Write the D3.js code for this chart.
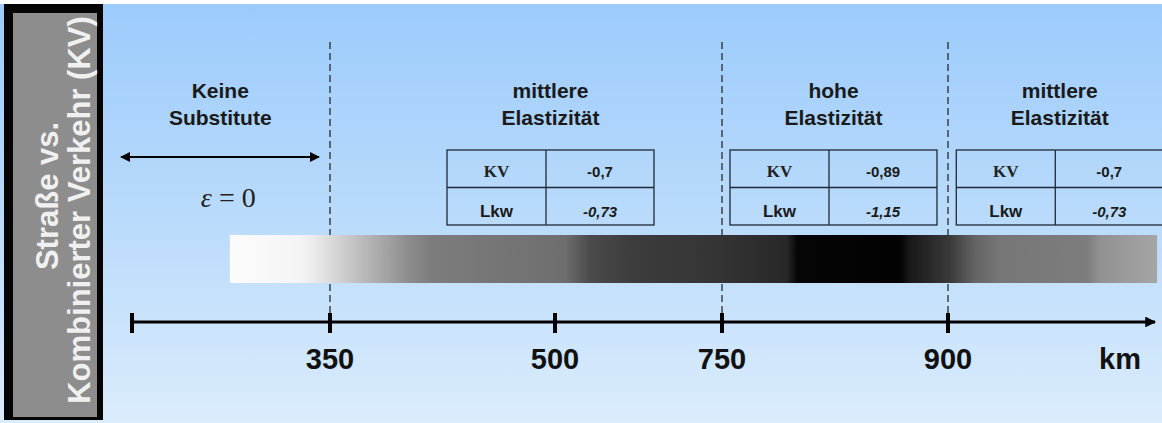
<!DOCTYPE html>
<html>
<head>
<meta charset="UTF-8">
<style>
  body { margin: 0; background: #fff; }
  svg { display: block; font-family: "Liberation Sans", Arial, sans-serif; }
</style>
<title>Elastizität nach Entfernung</title>
</head>
<body>
<svg></svg>
<script src="https://d3js.org/d3.v7.min.js"></script>
<script>

let width = 1162, height = 423;

// data
const tickKm = [0, 350, 500, 750, 900];
const tickLabels = ["", "350", "500", "750", "900"];
const boundaryKm = [350, 750, 900];
const regionTitles = [["Keine", "Substitute"], ["mittlere", "Elastizität"], ["hohe", "Elastizität"], ["mittlere", "Elastizität"]];
const regionCenterKm = [156, 497, 824, 1008];
const rowNames = ["KV", "Lkw"];
const kvValues = [-0.7, -0.89, -0.7];
const lkwValues = [-0.73, -1.15, -0.73];
const zeroEpsilon = 0;
// grey level of the elasticity bar along the distance
const stopKm = [173, 292, 320, 359, 403, 417, 515, 552, 617, 747, 793, 800, 868, 875, 902, 926, 950, 1034, 1047, 1102];
const stopGrey = [252, 245, 236, 205, 140, 125, 110, 75, 60, 52, 40, 5, 2, 25, 58, 100, 118, 125, 145, 165];

const de = d3.formatLocale({decimal: ",", thousands: ".", grouping: [3], currency: ["", " €"], minus: "-"});
const fmt = v => de.format("")(v);

let svg = d3.select("svg").attr("width", width).attr("height", height);

// piecewise distance scale (axis is not to scale)
let x = d3.scaleLinear()
    .domain([0, 350, 500, 750, 900, 1100])
    .range([132, 330, 555, 722, 948, 1155]);

let defs = svg.append("defs");

let bg = defs.append("linearGradient").attr("id", "bg")
    .attr("x1", 0).attr("y1", 0).attr("x2", 0).attr("y2", 1);
bg.append("stop").attr("offset", "0%").attr("stop-color", "#9ccbfc");
bg.append("stop").attr("offset", "55%").attr("stop-color", "#bcdcfb");
bg.append("stop").attr("offset", "100%").attr("stop-color", "#dbecfc");

let x0 = x(stopKm[0]), x1 = x(stopKm[stopKm.length - 1]);
let gr = defs.append("linearGradient").attr("id", "bar")
    .attr("x1", 0).attr("y1", 0).attr("x2", 1).attr("y2", 0);
gr.selectAll("stop")
    .data(stopKm)
  .enter()
    .append("stop")
    .attr("offset", d => (x(d) - x0) / (x1 - x0))
    .attr("stop-color", (d, i) => d3.rgb(stopGrey[i], stopGrey[i], stopGrey[i]));

let mk = defs.append("marker").attr("id", "ah")
    .attr("viewBox", "0 0 10 10").attr("refX", 9).attr("refY", 5)
    .attr("markerWidth", 5).attr("markerHeight", 5)
    .attr("orient", "auto-start-reverse");
mk.append("path").attr("d", "M0,0L10,5L0,10Z").attr("fill", "#000");

let mk2 = defs.append("marker").attr("id", "ah2")
    .attr("viewBox", "0 0 10 10").attr("refX", 9).attr("refY", 5)
    .attr("markerWidth", 4).attr("markerHeight", 3.6)
    .attr("orient", "auto");
mk2.append("path").attr("d", "M0,0L10,5L0,10Z").attr("fill", "#000");

svg.append("rect").attr("x", 0).attr("y", 4).attr("width", width).attr("height", height - 4)
    .attr("fill", "url(#bg)");

// side panel
svg.append("rect").attr("x", 4).attr("y", 4).attr("width", 99).attr("height", 416).attr("fill", "#050505");
svg.append("rect").attr("x", 13).attr("y", 13).attr("width", 84).attr("height", 404).attr("fill", "#8d8d8d");
let side = svg.append("g").attr("fill", "#f0f0f0").attr("font-weight", "bold")
    .attr("font-size", 31).attr("text-anchor", "middle");
side.append("text").attr("transform", "translate(58,196) rotate(-90)").text("Straße vs.");
side.append("text").attr("transform", "translate(90,210) rotate(-90)").text("Kombinierter Verkehr (KV)");

// dashed boundaries
svg.append("g").selectAll("line")
    .data(boundaryKm)
  .enter()
    .append("line")
    .attr("x1", d => x(d)).attr("x2", d => x(d))
    .attr("y1", 42).attr("y2", 314)
    .attr("stroke", "#2a2a2a").attr("stroke-width", 1.3)
    .attr("stroke-dasharray", "7,4");

// region titles
let titles = svg.append("g").attr("font-weight", "bold").attr("font-size", 21)
    .attr("fill", "#1a1a1a").attr("text-anchor", "middle");
titles.selectAll("text")
    .data(regionTitles)
  .enter()
    .append("text")
    .attr("x", (d, i) => x(regionCenterKm[i]))
    .attr("y", 98)
    .selectAll("tspan")
    .data(d => d)
  .enter()
    .append("tspan")
    .attr("x", function() { return d3.select(this.parentNode).attr("x"); })
    .attr("dy", (d, i) => i ? 27 : 0)
    .text(d => d);

// no substitutes: double arrow and epsilon
svg.append("line")
    .attr("x1", x(0) - 11).attr("x2", x(350) - 11)
    .attr("y1", 157).attr("y2", 157)
    .attr("stroke", "#000").attr("stroke-width", 2)
    .attr("marker-start", "url(#ah)").attr("marker-end", "url(#ah)");
let eps = svg.append("text")
    .attr("x", x(regionCenterKm[0]) + 8).attr("y", 207)
    .attr("text-anchor", "middle")
    .attr("font-family", "'Liberation Serif', 'Times New Roman', serif")
    .attr("font-size", 28).attr("fill", "#222");
eps.append("tspan").attr("font-style", "italic").text("ε");
eps.append("tspan").text(" = " + zeroEpsilon);

// elasticity tables
let tw = 207, c1 = 99, ty = 150, rh = 37.5;
let tables = svg.append("g").selectAll("g")
    .data(kvValues)
  .enter()
    .append("g")
    .attr("transform", (d, i) => "translate(" + (x(regionCenterKm[i + 1]) - tw / 2) + "," + ty + ")");

tables.append("rect").attr("width", tw).attr("height", rh * 2)
    .attr("fill", "none").attr("stroke", "#1f2a36").attr("stroke-width", 1.3);
tables.append("line").attr("x1", 0).attr("x2", tw).attr("y1", rh).attr("y2", rh)
    .attr("stroke", "#1f2a36").attr("stroke-width", 1.3);
tables.append("line").attr("x1", c1).attr("x2", c1).attr("y1", 0).attr("y2", rh * 2)
    .attr("stroke", "#1f2a36").attr("stroke-width", 1.3);

tables.append("text")
    .attr("x", c1 / 2).attr("y", 27)
    .attr("text-anchor", "middle").attr("font-weight", "bold").attr("font-size", 17)
    .attr("font-family", "'Liberation Serif', 'Times New Roman', serif")
    .attr("fill", "#222").text(rowNames[0]);
tables.append("text")
    .attr("x", c1 / 2).attr("y", 67)
    .attr("text-anchor", "middle").attr("font-weight", "bold").attr("font-size", 17)
    .attr("fill", "#1a1a1a").text(rowNames[1]);
tables.append("text")
    .attr("x", c1 + (tw - c1) / 2).attr("y", 27)
    .attr("text-anchor", "middle").attr("font-weight", "bold").attr("font-size", 15)
    .attr("fill", "#1a1a1a").text(d => fmt(d));
tables.append("text")
    .attr("x", c1 + (tw - c1) / 2).attr("y", 67)
    .attr("text-anchor", "middle").attr("font-weight", "bold").attr("font-style", "italic")
    .attr("font-size", 15).attr("fill", "#1a1a1a").text((d, i) => fmt(lkwValues[i]));

// grey elasticity bar
svg.append("rect")
    .attr("x", x0).attr("y", 235).attr("width", x1 - x0).attr("height", 48)
    .attr("fill", "url(#bar)");

// distance axis
let ay = 322;
svg.append("line")
    .attr("x1", x(0)).attr("x2", x.range()[x.range().length - 1])
    .attr("y1", ay).attr("y2", ay)
    .attr("stroke", "#000").attr("stroke-width", 3)
    .attr("marker-end", "url(#ah2)");

svg.append("g").selectAll("line")
    .data(tickKm)
  .enter()
    .append("line")
    .attr("x1", d => x(d)).attr("x2", d => x(d))
    .attr("y1", ay - 9).attr("y2", ay + 11)
    .attr("stroke", "#000").attr("stroke-width", 4);

svg.append("g").attr("font-weight", "bold").attr("font-size", 29)
    .attr("text-anchor", "middle").attr("fill", "#111")
    .selectAll("text")
    .data(tickKm)
  .enter()
    .append("text")
    .attr("x", d => x(d)).attr("y", 369)
    .text((d, i) => tickLabels[i]);

svg.append("text")
    .attr("x", 1120).attr("y", 369)
    .attr("text-anchor", "middle").attr("font-weight", "bold").attr("font-size", 29)
    .attr("fill", "#111").text("km");

</script>
</body>
</html>
